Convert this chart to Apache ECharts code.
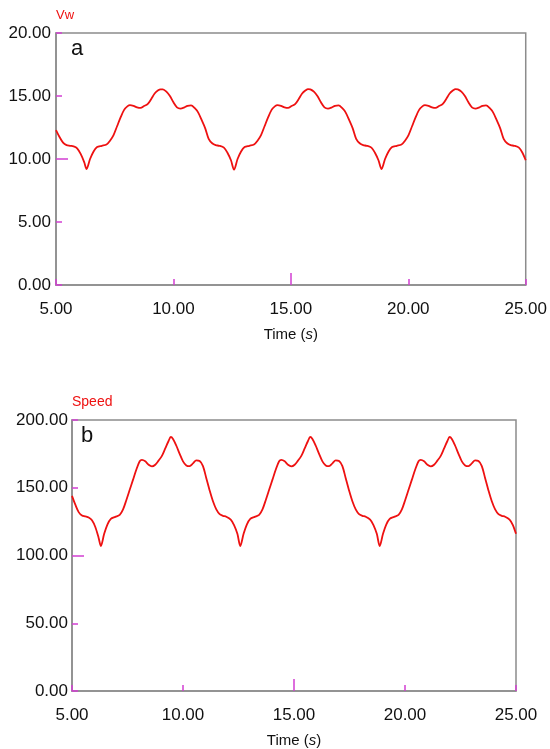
<!DOCTYPE html>
<html>
<head>
<meta charset="utf-8">
<script src="https://cdn.jsdelivr.net/npm/echarts@6/dist/echarts.min.js"></script>
<style>
html,body{margin:0;padding:0;background:#fff;}
#chart{width:550px;height:749px;}
</style>
</head>
<body>
<div id="chart"></div>
<script>
// time samples (s)
const timeS = [
  5.00, 5.15, 5.30, 5.45, 5.60, 5.75, 5.90, 6.05, 6.20,
  6.30, 6.45, 6.60, 6.75, 6.95, 7.15, 7.30, 7.45, 7.60, 7.75, 7.90, 8.05, 8.15, 8.30, 8.45, 8.60, 8.75, 8.90, 9.05, 9.20, 9.35, 9.45, 9.55, 9.70, 9.85, 10.00, 10.15, 10.30, 10.45, 10.60, 10.75, 10.90, 11.05, 11.20, 11.35, 11.50, 11.65, 11.80, 11.95, 12.15, 12.30, 12.45,
  12.58, 12.73, 12.88, 13.03, 13.23, 13.43, 13.58, 13.73, 13.88, 14.03, 14.18, 14.33, 14.43, 14.58, 14.73, 14.88, 15.03, 15.18, 15.33, 15.48, 15.63, 15.73, 15.83, 15.98, 16.13, 16.28, 16.43, 16.58, 16.73, 16.88, 17.03, 17.18, 17.33, 17.48, 17.63, 17.78, 17.93, 18.08, 18.23, 18.43, 18.58, 18.73,
  18.86, 19.01, 19.16, 19.31, 19.51, 19.71, 19.86, 20.01, 20.16, 20.31, 20.46, 20.61, 20.71, 20.86, 21.01, 21.16, 21.31, 21.46, 21.61, 21.76, 21.91, 22.01, 22.11, 22.26, 22.41, 22.56, 22.71, 22.86, 23.01, 23.16, 23.31, 23.46, 23.61, 23.76, 23.91, 24.06, 24.21, 24.36, 24.51, 24.71, 24.86, 25.00
];

// panel a: Vw
const vwValues = [
  12.3, 11.75, 11.3, 11.1, 11.05, 11.0, 10.85, 10.4, 9.75,
  9.2, 10.0, 10.6, 10.95, 11.05, 11.15, 11.45, 11.9, 12.6, 13.3, 13.9, 14.2, 14.28, 14.22, 14.1, 14.05, 14.2, 14.35, 14.75, 15.2, 15.45, 15.53, 15.53, 15.35, 15.0, 14.5, 14.1, 14.0, 14.08, 14.22, 14.25, 14.05, 13.7, 13.1, 12.45, 11.6, 11.25, 11.1, 11.05, 10.9, 10.5, 9.9,
  9.15, 10.0, 10.6, 10.95, 11.05, 11.15, 11.45, 11.9, 12.6, 13.3, 13.9, 14.2, 14.28, 14.22, 14.1, 14.05, 14.2, 14.35, 14.75, 15.2, 15.45, 15.55, 15.53, 15.35, 15.0, 14.5, 14.1, 14.0, 14.08, 14.22, 14.25, 14.05, 13.7, 13.1, 12.45, 11.6, 11.25, 11.1, 11.05, 10.9, 10.5, 9.9,
  9.2, 10.0, 10.6, 10.95, 11.05, 11.15, 11.45, 11.9, 12.6, 13.3, 13.9, 14.2, 14.28, 14.22, 14.1, 14.05, 14.2, 14.35, 14.75, 15.2, 15.45, 15.55, 15.53, 15.35, 15.0, 14.5, 14.1, 14.0, 14.08, 14.22, 14.25, 14.05, 13.7, 13.1, 12.45, 11.6, 11.25, 11.1, 11.05, 10.9, 10.5, 9.9
];

// panel b: Speed
const speedValues = [
  144, 137.5, 132, 129.5, 128.8, 128, 126, 121, 113,
  107, 116, 123, 127, 128.5, 130, 134, 141, 148.5, 156, 163.5, 169.5, 170.5, 169.5, 167, 165.8, 167, 170, 173.5, 179, 184.5, 187.5, 186, 181, 175, 169.5, 166.5, 166, 168, 170.2, 169.8, 166, 157, 148, 140, 134, 130.5, 129.3, 128.6, 126.5, 122.5, 116,
  107, 116, 123, 127, 128.5, 130, 134, 141, 148.5, 156, 163.5, 169.5, 170.5, 169.5, 167, 165.8, 167, 170, 173.5, 179, 184.5, 187.5, 186, 181, 175, 169.5, 166.5, 166, 168, 170.2, 169.8, 166, 157, 148, 140, 134, 130.5, 129.3, 128.6, 126.5, 122.5, 116,
  107, 116, 123, 127, 128.5, 130, 134, 141, 148.5, 156, 163.5, 169.5, 170.5, 169.5, 167, 165.8, 167, 170, 173.5, 179, 184.5, 187.5, 186, 181, 175, 169.5, 166.5, 166, 168, 170.2, 169.8, 166, 157, 148, 140, 134, 130.5, 129.3, 128.6, 126.5, 122.5, 116
];

const xRange = [5, 25];
const xInterval = 5;
const xLongTicks = [15];
const vwRange = [0, 20];
const vwInterval = 5;
const vwLongTicks = [10];
const speedRange = [0, 200];
const speedInterval = 50;
const speedLongTicks = [100];
const xAxisTitle = 'Time';
const vwName = 'Vw';
const speedName = 'Speed';
const panelLabels = ['a', 'b'];

const FONT = '"Liberation Sans", Arial, sans-serif';
const TICK = '#d23fd2';
const BORDER = '#8c8c8c';
const RED = '#ee1111';
const fmt = v => Number(v).toFixed(2);

function mainX(grid) {
  return {
    type: 'value', gridIndex: grid, min: xRange[0], max: xRange[1], interval: xInterval,
    position: 'bottom',
    name: xAxisTitle + ' ({i|s})', nameLocation: 'middle', nameGap: 42,
    nameTextStyle: { fontFamily: FONT, fontSize: 15, color: '#111', rich: { i: { fontFamily: FONT, fontSize: 15, fontStyle: 'italic', color: '#111' } } },
    axisLine: { show: true, lineStyle: { color: BORDER, width: 1.5 } },
    axisTick: { show: true, inside: true, length: 6, lineStyle: { color: TICK, width: 1.5 } },
    axisLabel: { formatter: fmt, fontFamily: FONT, fontSize: 17, color: '#111', margin: 16 },
    splitLine: { show: false }
  };
}
function longX(grid) {
  return {
    type: 'value', gridIndex: grid, min: xRange[0], max: xRange[1], interval: xInterval,
    position: 'bottom', offset: 0,
    axisLine: { show: false },
    axisTick: { show: true, inside: true, length: 12, customValues: xLongTicks, lineStyle: { color: TICK, width: 1.5 } },
    axisLabel: { show: false }, splitLine: { show: false }
  };
}
function mainY(grid, range, interval, name, labelMargin, nameSize) {
  return {
    type: 'value', gridIndex: grid, min: range[0], max: range[1], interval: interval,
    position: 'left',
    name: name, nameLocation: 'end', nameGap: 11,
    nameTextStyle: { fontFamily: FONT, fontSize: nameSize, color: RED, align: 'left', verticalAlign: 'bottom' },
    axisLine: { show: true, lineStyle: { color: BORDER, width: 1.5 } },
    axisTick: { show: true, inside: true, length: 6, lineStyle: { color: TICK, width: 1.5 } },
    axisLabel: { formatter: fmt, fontFamily: FONT, fontSize: 17, color: '#111', margin: labelMargin },
    splitLine: { show: false }
  };
}
function longY(grid, range, interval, longTicks) {
  return {
    type: 'value', gridIndex: grid, min: range[0], max: range[1], interval: interval,
    position: 'left', offset: 0,
    axisLine: { show: false },
    axisTick: { show: true, inside: true, length: 12, customValues: longTicks, lineStyle: { color: TICK, width: 1.5 } },
    axisLabel: { show: false }, splitLine: { show: false }
  };
}

const chart = echarts.init(document.getElementById('chart'), null, { renderer: 'canvas' });
chart.setOption({
  animation: false,
  backgroundColor: '#fff',
  grid: [
    { left: 56, top: 33, right: 19, bottom: 464, show: true, borderColor: BORDER, borderWidth: 1.5, backgroundColor: '#fff' },
    { left: 72, top: 420, right: 34, bottom: 58, show: true, borderColor: BORDER, borderWidth: 1.5, backgroundColor: '#fff' }
  ],
  xAxis: [mainX(0), longX(0), mainX(1), longX(1)],
  yAxis: [
    mainY(0, vwRange, vwInterval, vwName, 5, 13), longY(0, vwRange, vwInterval, vwLongTicks),
    mainY(1, speedRange, speedInterval, speedName, 4, 14), longY(1, speedRange, speedInterval, speedLongTicks)
  ],
  graphic: [
    { type: 'text', left: 71, top: 38, style: { text: panelLabels[0], fontFamily: FONT, fontSize: 22, fill: '#111' } },
    { type: 'text', left: 81, top: 425, style: { text: panelLabels[1], fontFamily: FONT, fontSize: 22, fill: '#111' } }
  ],
  series: [
    {
      type: 'line', xAxisIndex: 0, yAxisIndex: 0, showSymbol: false, smooth: 0.3,
      lineStyle: { color: RED, width: 1.8 },
      data: timeS.map((t, i) => [t, vwValues[i]])
    },
    {
      type: 'line', xAxisIndex: 2, yAxisIndex: 2, showSymbol: false, smooth: 0.3,
      lineStyle: { color: RED, width: 1.8 },
      data: timeS.map((t, i) => [t, speedValues[i]])
    }
  ]
});
</script>
</body>
</html>
